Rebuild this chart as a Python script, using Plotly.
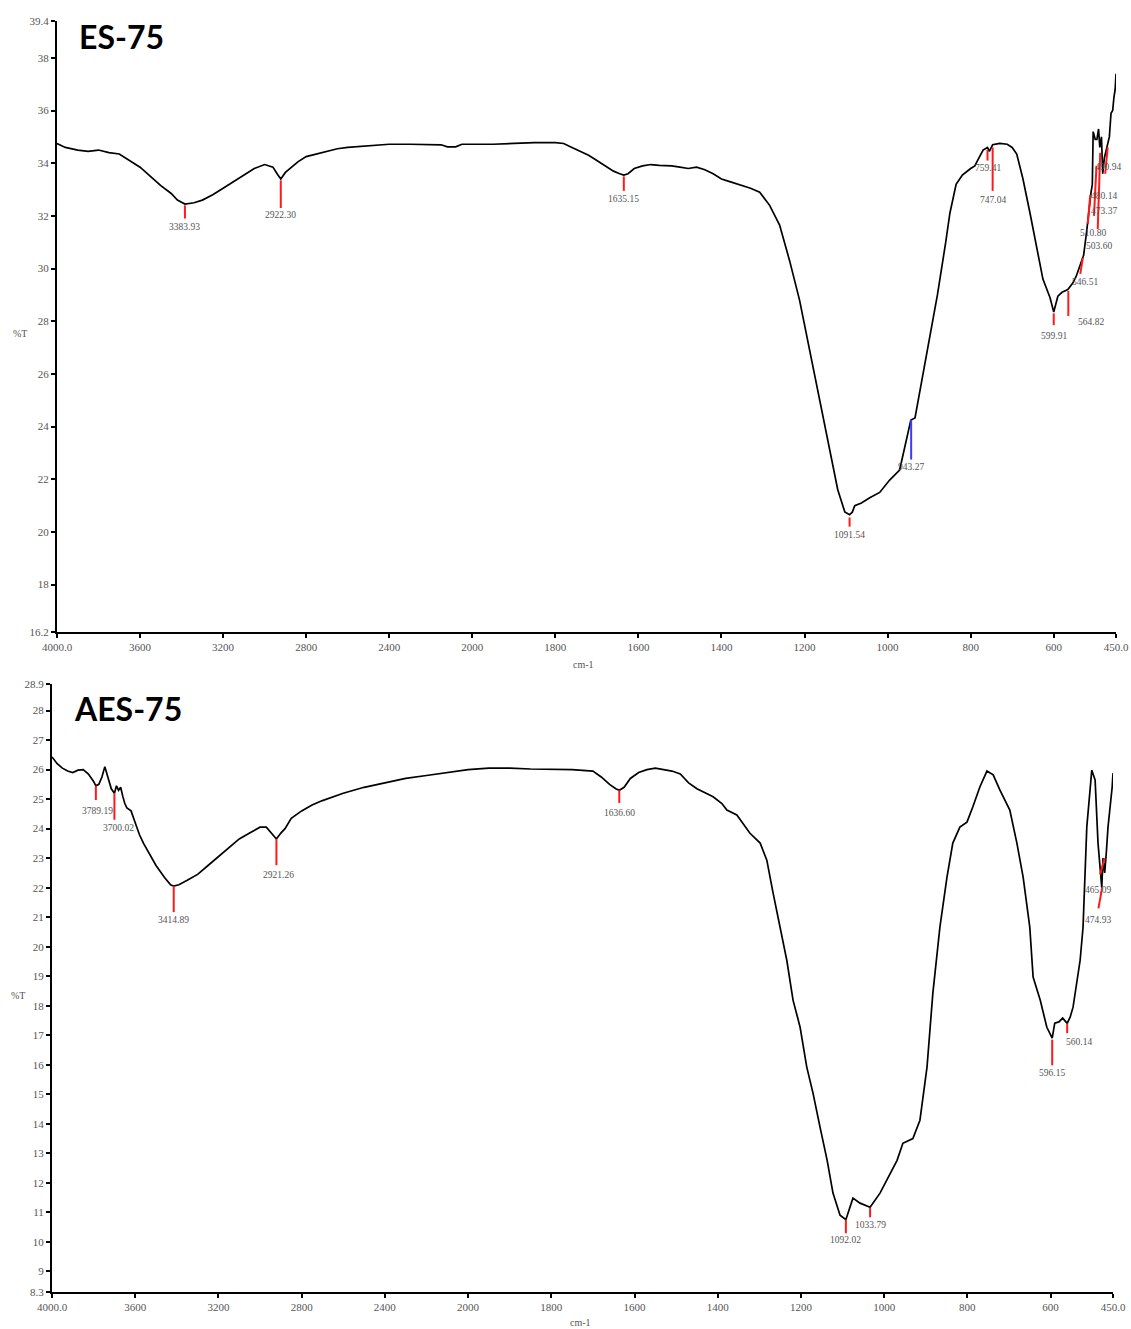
import numpy as np
import plotly.graph_objects as go

# ---------------- data ----------------
# ES-75 spectrum (wavenumber cm-1, %T)
es_wn = [4000, 3960, 3900, 3850, 3800, 3750, 3700, 3650, 3600, 3550, 3500, 3450, 3420, 3383.93, 3340, 3300,
         3250, 3200, 3150, 3100, 3050, 3000, 2960, 2940, 2922.3, 2900, 2870, 2840, 2800, 2750, 2700, 2650,
         2600, 2500, 2400, 2300, 2200, 2150, 2120, 2080, 2050, 2000, 1950, 1900, 1850, 1800, 1780, 1760,
         1740, 1720, 1700, 1680, 1660, 1645, 1635.15, 1625, 1610, 1590, 1570, 1550, 1520, 1500, 1480, 1460,
         1440, 1420, 1400, 1380, 1356, 1330, 1308, 1284, 1260, 1236, 1212, 1188, 1164, 1139, 1120, 1103,
         1091.54, 1085, 1079, 1063, 1043, 1019, 995, 971, 957, 944, 934, 922, 900, 880, 860, 850, 835, 820,
         800, 790, 780, 770, 759.41, 755, 747.04, 730, 712, 700, 689, 674, 657, 640, 626, 609, 599.91, 590,
         580, 566, 554, 546, 535, 528, 520, 515, 510, 507, 505, 500, 496, 492, 489, 485, 482, 478, 474, 470,
         466, 462, 458, 455, 452, 450]
es_t = [34.75, 34.6, 34.5, 34.45, 34.5, 34.4, 34.35, 34.1, 33.85, 33.5, 33.15, 32.85, 32.6, 32.45, 32.5, 32.6,
        32.8, 33.05, 33.3, 33.55, 33.8, 33.95, 33.85, 33.6, 33.4, 33.65, 33.85, 34.05, 34.25, 34.35, 34.45, 34.55,
        34.6, 34.65, 34.72, 34.72, 34.72, 34.7, 34.62, 34.62, 34.72, 34.72, 34.72, 34.75, 34.78, 34.78, 34.75, 34.6,
        34.45, 34.3, 34.1, 33.9, 33.7, 33.6, 33.55, 33.6, 33.8, 33.9, 33.95, 33.92, 33.9, 33.85, 33.8, 33.85,
        33.75, 33.6, 33.4, 33.3, 33.17, 33.05, 32.9, 32.4, 31.65, 30.3, 28.8, 26.9, 25.0, 23.1, 21.6, 20.76,
        20.65, 20.75, 21.0, 21.1, 21.3, 21.5, 21.97, 22.35, 23.3, 24.25, 24.33, 25.4, 27.3, 29.0, 31.0, 32.1, 33.2, 33.55,
        33.8, 33.9, 34.2, 34.5, 34.6, 34.45, 34.7, 34.75, 34.72, 34.6, 34.35, 33.4, 32.1, 30.8, 29.6, 28.9, 28.35, 28.95,
        29.1, 29.2, 29.45, 29.7, 30.2, 30.5, 31.5, 32.3, 32.9, 33.2, 35.2, 34.9, 34.9, 35.3, 34.6, 35.0, 33.6, 34.2, 34.5, 34.8,
        35.0, 35.9, 36.0, 36.5, 36.8, 37.4]

# AES-75 spectrum
aes_wn = [4000, 3975, 3950, 3925, 3900, 3875, 3850, 3825, 3800, 3789.19, 3775, 3760, 3746, 3735, 3725, 3715,
          3700.02, 3690, 3680, 3670, 3660, 3650, 3640, 3620, 3600, 3580, 3560, 3540, 3500, 3460, 3430, 3414.89,
          3390, 3350, 3300, 3250, 3200, 3150, 3100, 3050, 3000, 2970, 2950, 2921.26, 2900, 2880, 2850, 2800,
          2750, 2700, 2600, 2500, 2400, 2300, 2200, 2100, 2000, 1950, 1900, 1850, 1800, 1750, 1700, 1680,
          1660, 1645, 1636.6, 1625, 1610, 1590, 1570, 1550, 1530, 1510, 1490, 1470, 1450, 1430, 1411, 1390,
          1378, 1354, 1323, 1298, 1282, 1267, 1250, 1234, 1219, 1202, 1186, 1171, 1154, 1137, 1123, 1106,
          1092.02, 1087, 1075, 1058, 1033.79, 1010, 993, 969, 955, 931, 914, 897, 883, 866, 849, 835, 818, 801,
          787, 770, 753, 738, 722, 698, 681, 666, 650, 642, 625, 609, 596.15, 590, 580, 571, 560.14, 553, 546,
          529, 522, 513, 501, 493, 486, 477, 474, 470, 466, 462, 452, 450]
aes_t = [26.43, 26.2, 26.05, 25.95, 25.9, 25.98, 26.0, 25.85, 25.6, 25.45, 25.5, 25.75, 26.1, 25.85, 25.6, 25.35,
         25.2, 25.45, 25.3, 25.4, 25.1, 24.85, 24.7, 24.6, 24.2, 23.8, 23.5, 23.25, 22.75, 22.35, 22.1, 22.05,
         22.1, 22.25, 22.45, 22.75, 23.05, 23.35, 23.65, 23.85, 24.05, 24.05, 23.9, 23.65, 23.85, 24.0, 24.35, 24.6,
         24.8, 24.95, 25.2, 25.4, 25.55, 25.7, 25.8, 25.9, 26.0, 26.05, 26.05, 26.02, 26.0, 26.0, 25.95, 25.75,
         25.5, 25.35, 25.3, 25.4, 25.7, 25.9, 26.0, 26.05, 26.0, 25.95, 25.85, 25.55, 25.35, 25.2, 25.08, 24.85,
         24.63, 24.46, 23.85, 23.51, 22.93, 21.82, 20.66, 19.54, 18.19, 17.27, 15.92, 15.04, 13.88, 12.76, 11.65, 10.9,
         10.75, 10.97, 11.48, 11.31, 11.17, 11.65, 12.09, 12.76, 13.34, 13.5, 14.12, 15.92, 18.42, 20.66, 22.36, 23.51, 24.05, 24.22,
         24.73, 25.41, 25.95, 25.82, 25.31, 24.63, 23.51, 22.36, 20.66, 18.97, 18.19, 17.27, 16.9, 17.41, 17.45, 17.58, 17.4, 17.61, 17.95,
         19.54, 20.66, 24.05, 25.98, 25.65, 23.51, 22.0, 23.0, 22.5, 23.2, 24.05, 25.41, 25.88]

# peak markers
es_peaks_wn = [3383.93, 2922.30, 1635.15, 1091.54, 943.27, 759.41, 747.04, 599.91, 564.82, 530, 512, 497, 488, 470]
es_peaks_top = [32.4, 33.35, 33.5, 20.55, 24.25, 34.5, 34.6, 28.3, 29.15, 30.4, 32.8, 33.9, 34.4, 34.6]
es_peaks_bot = [31.9, 32.3, 32.95, 20.2, 22.75, 34.1, 32.95, 27.85, 28.2, 29.8, 31.7, 32.0, 31.5, 33.6]
es_labels = ["3383.93", "2922.30", "1635.15", "1091.54", "943.27", "759.41", "747.04", "599.91", "564.82",
             "546.51", "510.80", "503.60", "473.37", "480.14", "490.94"]
es_label_wn = [3383.93, 2922.30, 1635.15, 1091.54, 943.27, 759.41, 747.04, 599.91, 540, 525, 505, 490, 478, 480, 470]
es_label_t = [31.58, 32.02, 32.64, 19.87, 22.48, 33.83, 32.6, 27.45, 27.97, 29.5, 31.35, 30.85, 32.2, 32.75, 33.85]
es_blue = [False, False, False, False, True, False, False, False, False, False, False, False, False, False]

aes_peaks_wn = [3789.19, 3700.02, 3414.89, 2921.26, 1636.60, 1092.02, 1033.79, 596.15, 560.14, 470, 476]
aes_peaks_top = [25.45, 25.2, 22.05, 23.65, 25.3, 10.75, 11.15, 16.85, 17.4, 23.0, 22.0]
aes_peaks_bot = [24.97, 24.3, 21.17, 22.76, 24.87, 10.29, 10.83, 15.98, 17.07, 22.45, 21.3]
aes_peaks_wn_bot = [3789.19, 3700.02, 3414.89, 2921.26, 1636.60, 1092.02, 1033.79, 596.15, 560.14, 481, 485]
aes_labels = ["3789.19", "3700.02", "3414.89", "2921.26", "1636.60", "1092.02", "1033.79", "596.15", "560.14",
              "465.09", "474.93"]
aes_label_wn = [3780, 3680, 3414.89, 2910, 1636.60, 1092.02, 1033.79, 596.15, 560.14, 487, 487]
aes_label_t = [24.6, 24.03, 20.9, 22.43, 24.53, 10.05, 10.56, 15.72, 16.77, 21.92, 20.9]

x_ticks_wn = [4000, 3600, 3200, 2800, 2400, 2000, 1800, 1600, 1400, 1200, 1000, 800, 600, 450]
x_tick_text = ["4000.0", "3600", "3200", "2800", "2400", "2000", "1800", "1600", "1400", "1200", "1000",
               "800", "600", "450.0"]
es_y_ticks = [16.2, 18, 20, 22, 24, 26, 28, 30, 32, 34, 36, 38, 39.4]
aes_y_ticks = [8.3, 9, 10, 11, 12, 13, 14, 15, 16, 17, 18, 19, 20, 21, 22, 23, 24, 25, 26, 27, 28, 28.9]


# x-scale has a 2x compression above 2000 cm-1 (as on the instrument printout)
def tx(w):
    w = np.asarray(w, dtype=float)
    return np.where(w > 2000, 2000 + (w - 2000) / 2.0, w)


W, H = 1131, 1329


def fx(px):
    return px / W


def fy(py):
    return 1 - py / H


SERIF = "Liberation Serif"
GRAY = "#555555"

fig = go.Figure()


def add_panel(xa, ya, wn, t, pk_wn, pk_top, pk_bot, pk_wn_bot, labels, lab_wn, lab_t, blue=None, left_labels=()):
    fig.add_trace(go.Scatter(x=tx(wn), y=t, mode="lines", line=dict(color="black", width=1.7),
                             xaxis=xa, yaxis=ya, showlegend=False, hoverinfo="skip"))
    for i in range(len(pk_wn)):
        col = "#3b3bff" if (blue and blue[i]) else "#ff1a1a"
        fig.add_trace(go.Scatter(x=tx([pk_wn[i], pk_wn_bot[i]]), y=[pk_top[i], pk_bot[i]], mode="lines",
                                 line=dict(color=col, width=2), xaxis=xa, yaxis=ya,
                                 showlegend=False, hoverinfo="skip"))
    for i in range(len(labels)):
        left = labels[i] in left_labels
        fig.add_annotation(x=float(tx(lab_wn[i])), y=lab_t[i], xref=xa, yref=ya, text=labels[i],
                           showarrow=False, xanchor="left" if left else "center", yanchor="middle",
                           xshift=-3 if left else 0,
                           font=dict(family=SERIF, size=9.5, color=GRAY))


add_panel("x", "y", es_wn, es_t, es_peaks_wn, es_peaks_top, es_peaks_bot,
          [w + (6 if i >= 9 else 0) for i, w in enumerate(es_peaks_wn)],
          es_labels, es_label_wn, es_label_t, blue=es_blue, left_labels=("564.82",))
add_panel("x2", "y2", aes_wn, aes_t, aes_peaks_wn, aes_peaks_top, aes_peaks_bot, aes_peaks_wn_bot,
          aes_labels, aes_label_wn, aes_label_t, left_labels=("560.14",))

axis_common = dict(showgrid=False, zeroline=False, showline=True, linecolor="black", linewidth=2,
                   ticks="outside", ticklen=4, tickwidth=1.5, tickcolor="black", automargin=False,
                   tickfont=dict(family=SERIF, size=11, color=GRAY))

xtv = list(tx(x_ticks_wn))
fig.update_layout(
    width=W, height=H, margin=dict(l=0, r=0, t=0, b=0, pad=0),
    paper_bgcolor="white", plot_bgcolor="white",
    xaxis=dict(domain=[fx(57), fx(1116)], range=[3000, 450], anchor="y", tickvals=xtv, ticktext=x_tick_text,
               **axis_common),
    yaxis=dict(domain=[fy(632), fy(21)], range=[16.2, 39.4], anchor="x", tickvals=es_y_ticks,
               ticktext=[str(v) for v in es_y_ticks], **axis_common),
    xaxis2=dict(domain=[fx(52), fx(1113)], range=[3000, 450], anchor="y2", tickvals=xtv, ticktext=x_tick_text,
                **axis_common),
    yaxis2=dict(domain=[fy(1292), fy(684)], range=[8.3, 28.9], anchor="x2", tickvals=aes_y_ticks,
                ticktext=[str(v) for v in aes_y_ticks], **axis_common),
)

# panel titles and axis titles
for txt, px, py in [("ES-75", 77, 36), ("AES-75", 72, 709)]:
    fig.add_annotation(x=fx(px), y=fy(py), xref="paper", yref="paper", text=f"<b>{txt}</b>",
                       showarrow=False, xanchor="left", yanchor="middle",
                       font=dict(family="Lato", size=32, color="black"))
for txt, px, py in [("%T", 20, 333), ("cm-1", 583, 664), ("%T", 18, 995), ("cm-1", 580, 1322)]:
    fig.add_annotation(x=fx(px), y=fy(py), xref="paper", yref="paper", text=txt, showarrow=False,
                       xanchor="center", yanchor="middle", font=dict(family=SERIF, size=10, color=GRAY))

fig.write_html("out.html", config={"displayModeBar": False},
               post_script="document.body.style.margin='0';document.body.style.overflow='hidden';")
